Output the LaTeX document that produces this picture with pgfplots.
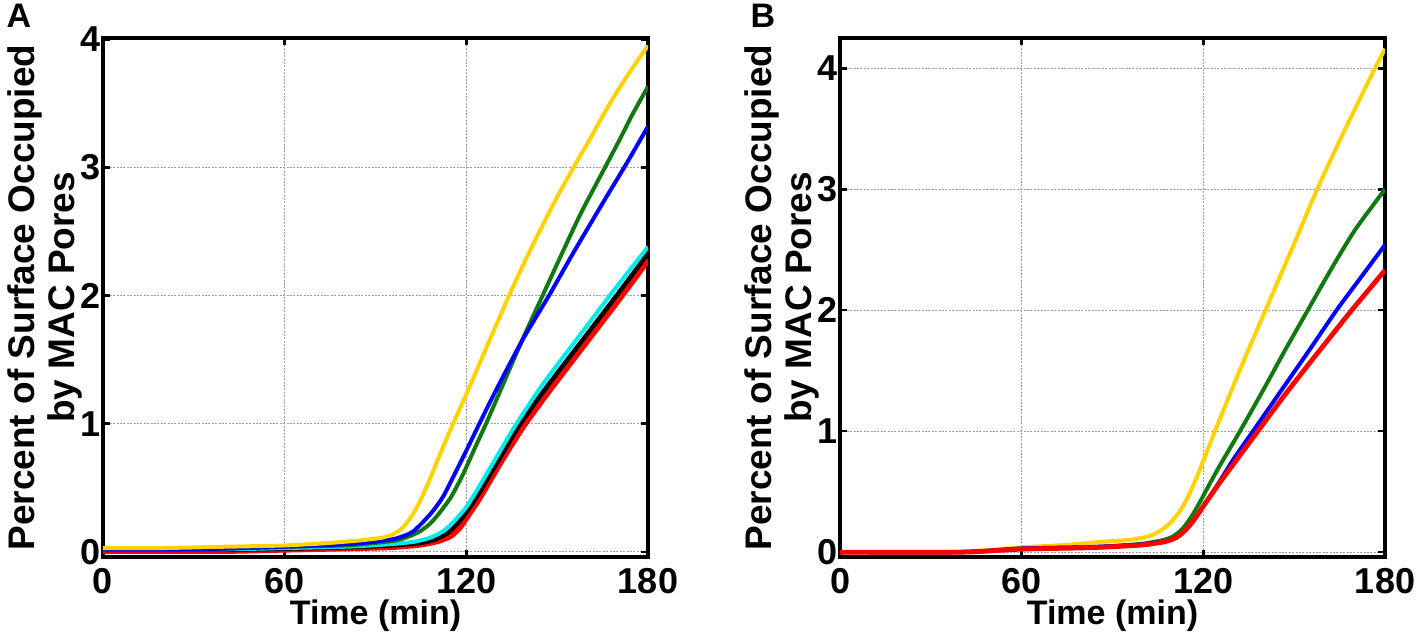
\documentclass[border=0pt]{standalone}
\usepackage{fontspec}
\setmainfont{Liberation Sans}
\usepackage{pgfplots}
\pgfplotsset{compat=1.18}
\definecolor{myyellow}{RGB}{255,210,0}
\definecolor{mygreen}{RGB}{16,122,16}
\definecolor{myblue}{RGB}{0,0,255}
\definecolor{mycyan}{RGB}{0,235,235}
\definecolor{myred}{RGB}{255,0,0}
\pgfplotsset{
  panel/.style={
    width=272.5pt, height=259.5pt, scale only axis,
    anchor=south west,
    xmin=0, xmax=180, xtick={0,60,120,180},
    ytick={0,1,2,3,4},
    axis line style={line width=1.6pt},
    tick style={line width=1.3pt, black},
    major tick length=3.5pt,
    tick align=inside,
    xtick pos=both, ytick pos=both,
    xticklabel pos=left, yticklabel pos=left,
    grid=major,
    major grid style={gray!75, line width=0.6pt, dash pattern=on 1pt off 0.7pt},
    /pgf/number format/assume math mode=true,
    ticklabel style={font=\bfseries\fontsize{18}{20}\selectfont},
    yticklabel style={inner xsep=1.2pt, inner ysep=0pt},
    xticklabel style={inner ysep=0pt, yshift=-5.5pt},
    xlabel={Time (min)},
    ylabel={Percent of Surface Occupied\\by MAC Pores},
    xlabel style={font=\bfseries\fontsize{17}{20}\selectfont, at={(axis description cs:0.5,-0.113)}, anchor=center},
    ylabel style={align=center, font=\bfseries\fontsize{18.5}{20}\selectfont, at={(axis description cs:-0.107,0.5)}, anchor=center},
    every axis plot/.append style={smooth, tension=0.4},
  }
}
\begin{document}
\begin{tikzpicture}
\path[use as bounding box] (0,0) rectangle (708.5pt,317.5pt);
\node[font=\bfseries\fontsize{17}{18}\selectfont] at (9.5pt,309.5pt) {A};
\node[font=\bfseries\fontsize{17}{18}\selectfont] at (381.5pt,309.5pt) {B};
% Panel A
\begin{axis}[panel, at={(51.5pt,39pt)}, ymin=-0.04, ymax=4.01]
\addplot[myred, line width=3.3pt] coordinates {
(0,0.01) (40,0.01) (60,0.02) (80,0.03) (95,0.04) (105,0.06) (111,0.09) (115,0.13) (118,0.20) (120,0.27) (124,0.41) (128,0.57) (132,0.73) (138.7,0.98) (147,1.25) (158,1.59) (169,1.93) (175,2.12) (180,2.28)};
\addplot[black, line width=2.2pt] coordinates {
(0,0.015) (40,0.015) (60,0.025) (80,0.035) (95,0.05) (105,0.07) (110,0.10) (114,0.15) (117,0.22) (120,0.31) (124,0.45) (128,0.61) (132,0.77) (137.3,0.98) (146,1.27) (157,1.61) (168,1.95) (175,2.17) (180,2.33)};
\addplot[mycyan, line width=2pt] coordinates {
(0,0.02) (40,0.02) (60,0.03) (80,0.04) (95,0.06) (103,0.08) (108,0.11) (112.3,0.16) (116,0.24) (120,0.35) (124,0.50) (128,0.66) (132,0.82) (136,0.98) (145,1.30) (156.2,1.65) (167.4,2.0) (175,2.23) (180,2.38)};
\addplot[mygreen, line width=2pt] coordinates {
(0,0.02) (30,0.02) (60,0.04) (80,0.05) (90,0.07) (97,0.09) (101,0.12) (104.7,0.16) (108,0.22) (111,0.30) (115,0.43) (119,0.61) (123,0.82) (126.5,1.0) (132,1.3) (138.6,1.66) (145.2,2.0) (152,2.35) (158,2.65) (165.8,3.0) (170.7,3.22) (175,3.42) (180,3.63)};
\addplot[myblue, line width=2pt] coordinates {
(0,0.02) (30,0.02) (60,0.04) (80,0.06) (90,0.08) (96,0.10) (100,0.13) (102.5,0.16) (106,0.24) (109,0.32) (112.3,0.43) (116,0.60) (120,0.79) (124.5,1.01) (130,1.27) (138.7,1.66) (147.3,2.0) (155,2.32) (165,2.72) (172.9,3.03) (180,3.32)};
\addplot[myyellow, line width=2pt] coordinates {
(0,0.03) (20,0.03) (40,0.04) (60,0.05) (75,0.07) (85,0.09) (92,0.11) (96,0.14) (99,0.19) (102,0.28) (105,0.41) (108,0.57) (112,0.80) (116,1.02) (120,1.23) (124,1.45) (128,1.67) (131,1.83) (134.1,2.0) (140,2.3) (145,2.54) (150,2.77) (155.9,3.02) (160.8,3.22) (165,3.4) (170,3.6) (175,3.78) (180,3.95)};
\end{axis}
% Panel B
\begin{axis}[panel, at={(420pt,39pt)}, ymin=-0.04, ymax=4.25]
\addplot[myyellow, line width=2pt] coordinates {
(0,0) (30,0) (45,0.01) (60,0.04) (75,0.06) (86,0.085) (95,0.10) (100,0.12) (103,0.14) (106,0.18) (109,0.24) (112,0.33) (115,0.46) (118,0.63) (121,0.82) (124,1.01) (130,1.38) (135,1.68) (140.9,2.02) (145,2.26) (150,2.55) (157.6,3.0) (165,3.4) (170,3.66) (176.7,4.0) (180,4.16)};
\addplot[mygreen, line width=2pt] coordinates {
(0,0) (40,0) (60,0.03) (80,0.04) (90,0.05) (100,0.07) (106.7,0.10) (110,0.13) (113,0.19) (116,0.29) (119,0.42) (122,0.56) (126,0.74) (132.1,1.0) (140,1.35) (147,1.67) (154.5,2.0) (162,2.33) (170,2.66) (180,3.0)};
\addplot[myblue, line width=2pt] coordinates {
(0,0) (40,0) (60,0.03) (80,0.04) (90,0.05) (100,0.065) (107,0.09) (111,0.12) (114,0.18) (117,0.27) (120,0.38) (124,0.53) (130,0.77) (136.4,1.0) (145,1.31) (155,1.67) (164,2.0) (172,2.27) (180,2.54)};
\addplot[myred, line width=2.4pt] coordinates {
(0,0) (40,0) (60,0.025) (80,0.035) (90,0.045) (100,0.06) (107,0.085) (111,0.12) (114,0.18) (117,0.27) (120,0.38) (125,0.56) (130,0.73) (138,1.0) (146,1.27) (155,1.56) (162,1.78) (169,2.0) (175,2.18) (180,2.33)};
\end{axis}
\end{tikzpicture}
\end{document}
